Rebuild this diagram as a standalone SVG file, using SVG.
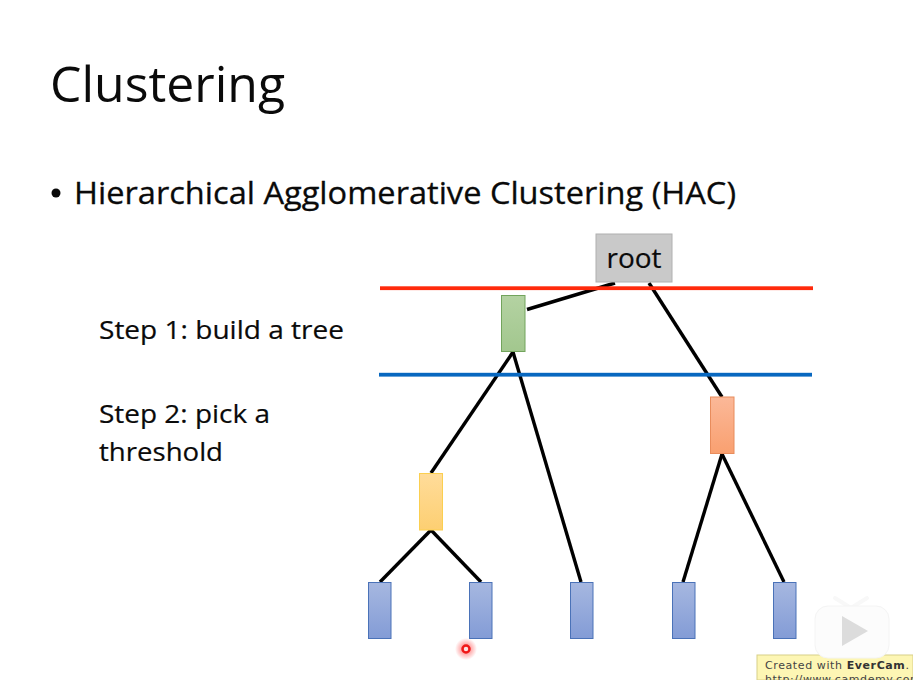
<svg xmlns="http://www.w3.org/2000/svg" width="913" height="680" viewBox="0 0 913 680">
<style>
text{font-family:"Open Sans","Noto Sans","Liberation Sans",sans-serif;fill:#0a0a0a}
.c{stroke:#000;stroke-width:3.400;fill:none;stroke-linecap:butt}
.b{fill:url(#gb);stroke:#4a72b8;stroke-width:1}
</style>
<defs>
<linearGradient id="gb" x1="0" y1="0" x2="0" y2="1"><stop offset="0" stop-color="#a6b7e0"/><stop offset="1" stop-color="#839cd6"/></linearGradient>
<linearGradient id="gg" x1="0" y1="0" x2="0" y2="1"><stop offset="0" stop-color="#b4d2a2"/><stop offset="1" stop-color="#a2c78e"/></linearGradient>
<linearGradient id="gy" x1="0" y1="0" x2="0" y2="1"><stop offset="0" stop-color="#ffdc9a"/><stop offset="1" stop-color="#fdcf72"/></linearGradient>
<linearGradient id="go" x1="0" y1="0" x2="0" y2="1"><stop offset="0" stop-color="#fbb898"/><stop offset="1" stop-color="#f9a070"/></linearGradient>
<radialGradient id="halo"><stop offset="0.3" stop-color="#ff5050" stop-opacity="0.6"/><stop offset="1" stop-color="#ff5050" stop-opacity="0"/></radialGradient>
</defs>
<rect width="913" height="680" fill="#fff"/>
<text x="50" y="102" font-size="50" textLength="235" lengthAdjust="spacingAndGlyphs">Clustering</text>
<circle cx="56" cy="193" r="4.5" fill="#0a0a0a"/>
<text x="74" y="204" font-size="31" textLength="662" lengthAdjust="spacingAndGlyphs" stroke="#0a0a0a" stroke-width="0.300">Hierarchical Agglomerative Clustering (HAC)</text>
<text x="99" y="339" font-size="26" textLength="245" lengthAdjust="spacingAndGlyphs" stroke="#0a0a0a" stroke-width="0.200">Step 1: build a tree</text>
<text x="99" y="423" font-size="26" textLength="171" lengthAdjust="spacingAndGlyphs" stroke="#0a0a0a" stroke-width="0.200">Step 2: pick a</text>
<text x="99" y="461" font-size="26" textLength="124" lengthAdjust="spacingAndGlyphs" stroke="#0a0a0a" stroke-width="0.200">threshold</text>
<g id="connectors">
<path class="c" d="M527 309.500L615 283"/>
<path class="c" d="M649 283L722 397"/>
<path class="c" d="M513 352L431 473"/>
<path class="c" d="M513 352L581 582"/>
<path class="c" d="M431 530L380 582"/>
<path class="c" d="M431 530L481 582"/>
<path class="c" d="M722 454L683 582"/>
<path class="c" d="M722 454L784 582"/>
</g>
<g id="root"><rect x="596" y="234" width="76" height="48" fill="#c9c9c9" stroke="#b0b0b0"/><text x="634" y="268" font-size="27" text-anchor="middle" textLength="55" lengthAdjust="spacingAndGlyphs" stroke="#0a0a0a" stroke-width="0.200">root</text></g>
<g id="threshold-red"><rect x="380" y="286.300" width="433" height="3.800" fill="#ff2a0c"/></g>
<g id="threshold-blue"><rect x="379" y="372.800" width="433" height="3.800" fill="#0868c0"/></g>
<g id="n-green"><rect x="501.500" y="295.500" width="23.500" height="56" fill="url(#gg)" stroke="#72a45c"/></g>
<g id="n-orange"><rect x="710.500" y="397" width="23.500" height="56.500" fill="url(#go)" stroke="#e88c5c"/></g>
<g id="n-yellow"><rect x="419.500" y="473.500" width="23" height="56.500" fill="url(#gy)" stroke="#fbcf50"/></g>
<g id="leaf1"><rect class="b" x="368.500" y="582.500" width="22.500" height="56"/></g>
<g id="leaf2"><rect class="b" x="469.500" y="582.500" width="22.500" height="56"/></g>
<g id="leaf3"><rect class="b" x="570.500" y="582.500" width="22.500" height="56"/></g>
<g id="leaf4"><rect class="b" x="672.500" y="582.500" width="22.500" height="56"/></g>
<g id="leaf5"><rect class="b" x="773.500" y="582.500" width="22.500" height="56"/></g>
<g id="cursor"><circle cx="466" cy="649" r="11" fill="url(#halo)"/><circle cx="466" cy="649" r="3.500" fill="#fde0e0" stroke="#f01818" stroke-width="2.500"/></g>
<g id="evercam">
<rect x="757" y="655" width="156" height="25" fill="#fdf6b4" stroke="#d8cf88"/>
<text x="765" y="669" font-size="11" letter-spacing="0.600" style="font-family:'DejaVu Sans',sans-serif;fill:#444">Created with <tspan font-weight="bold" style="fill:#333">EverCam</tspan>.</text>
<text x="765" y="683" font-size="11" letter-spacing="0.600" style="font-family:'DejaVu Sans',sans-serif;fill:#444">http://www.camdemy.com</text>
</g>
<g id="play">
<path d="M835 598L851 608L867 598" fill="none" stroke="#f8f8f8" stroke-width="4" stroke-linecap="round"/>
<rect x="815" y="606" width="74" height="52" rx="13" fill="#fcfcfc" stroke="#f4f4f4"/>
<path d="M842 616L868 631L842 646Z" fill="#dcdcdc"/>
</g>
</svg>
